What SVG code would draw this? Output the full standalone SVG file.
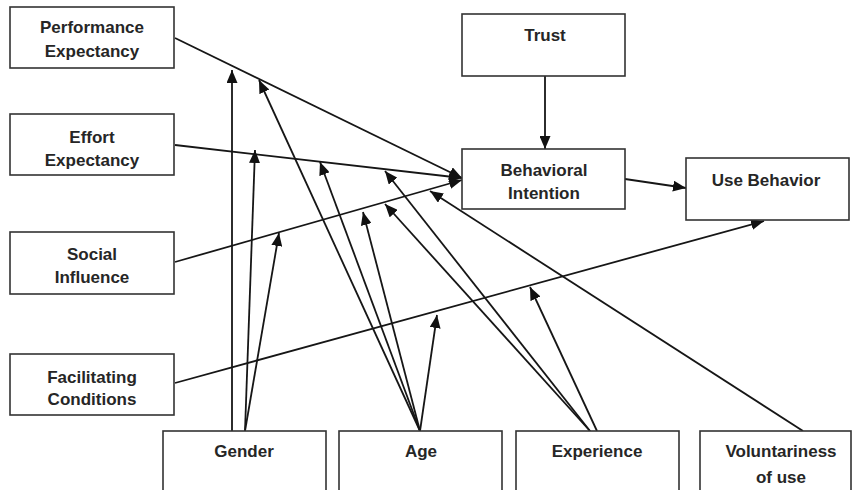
<svg xmlns="http://www.w3.org/2000/svg" width="853" height="490" viewBox="0 0 853 490">
<defs>
<marker id="ah" markerUnits="userSpaceOnUse" markerWidth="13" markerHeight="11" refX="13" refY="5.5" orient="auto">
<path d="M0,0 L13,5.5 L0,11 z" fill="#111"/>
</marker>
<style>
.box{fill:#fff;stroke:#333;stroke-width:1.6}
.t{font-family:"Liberation Sans",Arial,sans-serif;font-size:17px;font-weight:bold;fill:#262626;text-anchor:middle}
.c{stroke:#161616;stroke-width:1.8;fill:none;marker-end:url(#ah)}
</style>
</defs>
<rect width="853" height="490" fill="#fff"/>
<g id="connectors">
<line class="c" x1="175" y1="38" x2="462" y2="178"/>
<line class="c" x1="175" y1="145" x2="462" y2="178"/>
<line class="c" x1="175" y1="262" x2="462" y2="180"/>
<line class="c" x1="175" y1="383" x2="764" y2="221"/>
<line class="c" x1="545" y1="76" x2="545" y2="149"/>
<line class="c" x1="625" y1="179" x2="686" y2="188"/>
<line class="c" x1="232" y1="431" x2="232" y2="70"/>
<line class="c" x1="245" y1="431" x2="255" y2="150"/>
<line class="c" x1="245" y1="431" x2="279" y2="233"/>
<line class="c" x1="420" y1="431" x2="259" y2="80"/>
<line class="c" x1="420" y1="431" x2="320" y2="162"/>
<line class="c" x1="420" y1="431" x2="363" y2="212"/>
<line class="c" x1="420" y1="431" x2="437" y2="315"/>
<line class="c" x1="590" y1="431" x2="385" y2="171"/>
<line class="c" x1="590" y1="431" x2="385" y2="204"/>
<line class="c" x1="597" y1="431" x2="530" y2="287"/>
<line class="c" x1="803" y1="431" x2="430" y2="191"/>
</g>
<g id="performance-expectancy"><rect class="box" x="10" y="7" width="164" height="61"/><text class="t" x="92" y="33">Performance</text><text class="t" x="92" y="57">Expectancy</text></g>
<g id="effort-expectancy"><rect class="box" x="10" y="114" width="164" height="61"/><text class="t" x="92" y="143">Effort</text><text class="t" x="92" y="166">Expectancy</text></g>
<g id="social-influence"><rect class="box" x="10" y="232" width="164" height="62"/><text class="t" x="92" y="260">Social</text><text class="t" x="92" y="283">Influence</text></g>
<g id="facilitating-conditions"><rect class="box" x="10" y="354" width="164" height="61"/><text class="t" x="92" y="383">Facilitating</text><text class="t" x="92" y="405">Conditions</text></g>
<g id="trust"><rect class="box" x="462" y="14" width="163" height="62"/><text class="t" x="545" y="41">Trust</text></g>
<g id="behavioral-intention"><rect class="box" x="462" y="149" width="163" height="60"/><text class="t" x="544" y="176">Behavioral</text><text class="t" x="544" y="199">Intention</text></g>
<g id="use-behavior"><rect class="box" x="686" y="158" width="163" height="62"/><text class="t" x="766" y="186">Use Behavior</text></g>
<g id="gender"><rect class="box" x="163" y="431" width="163" height="70"/><text class="t" x="244" y="457">Gender</text></g>
<g id="age"><rect class="box" x="339" y="431" width="163" height="70"/><text class="t" x="421" y="457">Age</text></g>
<g id="experience"><rect class="box" x="516" y="431" width="163" height="70"/><text class="t" x="597" y="457">Experience</text></g>
<g id="voluntariness"><rect class="box" x="700" y="431" width="151" height="70"/><text class="t" x="781" y="457">Voluntariness</text><text class="t" x="781" y="483">of use</text></g>
</svg>
